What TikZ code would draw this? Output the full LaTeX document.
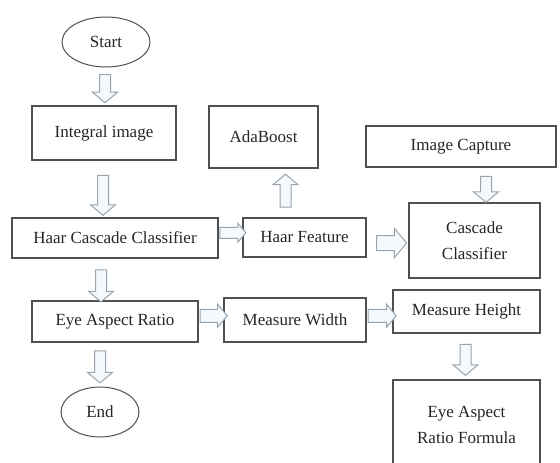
\documentclass[tikz,border=0pt]{standalone}
\usepackage{fontspec}
\setmainfont{Liberation Serif}
\usetikzlibrary{shapes.geometric, shapes.arrows, calc}
\definecolor{boxline}{HTML}{505050}
\definecolor{arrowline}{HTML}{98A4B0}
\definecolor{arrowfill}{HTML}{F6F9FB}

\begin{document}
\begin{tikzpicture}[
  x=1pt, y=-1pt,
  terminal/.style={ellipse, draw=boxline, line width=1pt, inner sep=0pt, text=black!85, font=\fontsize{17}{20}\selectfont},
  stage/.style={rectangle, draw=boxline, line width=1.4pt, inner sep=0pt, align=center, text=black!85, font=\fontsize{17}{26}\selectfont},
  barrow/.style={single arrow, draw=arrowline, fill=arrowfill, line width=1pt, inner sep=5pt, single arrow head extend=7pt, single arrow tip angle=100, minimum height=#1},
  pointdown/.style={shape border rotate=270},
  pointup/.style={shape border rotate=90},
  pointright/.style={shape border rotate=0, inner sep=6pt, single arrow head extend=5pt}
]
\clip (0,0) rectangle (560,463);
\fill[white] (0,0) rectangle (560,463);

\node[terminal, minimum width=88pt, minimum height=50pt] (start) at (106,42) {Start};
\node[stage, minimum width=144pt, minimum height=54pt] (integral) at (104,133) {Integral image};
\node[stage, minimum width=109pt, minimum height=62pt] (adaboost) at (263.5,137) {AdaBoost};
\node[stage, minimum width=190pt, minimum height=41pt] (capture) at (461,146.5) {Image Capture};
\node[stage, minimum width=206pt, minimum height=40pt] (haarcc) at (115,238) {Haar Cascade Classifier};
\node[stage, minimum width=123pt, minimum height=39pt] (haarfeat) at (304.5,237.5) {Haar Feature};
\node[stage, minimum width=131pt, minimum height=75pt] (cascade) at (474.5,240.5) {Cascade\\Classifier};
\node[stage, minimum width=166pt, minimum height=41pt] (ear) at (115,321.5) {Eye Aspect Ratio};
\node[stage, minimum width=142pt, minimum height=44pt] (mwidth) at (295,320) {Measure Width};
\node[stage, minimum width=147pt, minimum height=43pt] (mheight) at (466.5,311.5) {Measure Height};
\node[stage, minimum width=147pt, minimum height=90pt] (formula) at (466.5,425) {Eye Aspect\\Ratio Formula};
\node[terminal, minimum width=78pt, minimum height=50pt] (end) at (100,412) {End};

\node[barrow=28pt, pointdown] (a1) at ($(start.south)!0.5!(integral.north)$) {};
\node[barrow=40pt, pointdown] (a2) at ($(integral.south)!0.5!(integral.south |- haarcc.north)+(-1,4)$) {};
\node[barrow=26pt, pointright, inner sep=5pt, single arrow head extend=4pt] (a3) at ($(haarcc.east)!0.5!(haarfeat.west)+(0,-5)$) {};
\node[barrow=33pt, pointup] (a4) at ($(adaboost.south)!0.5!(adaboost.south |- haarfeat.north)+(22,0)$) {};
\node[barrow=30pt, pointright, inner sep=7pt, single arrow head extend=7pt] (a5) at ($(haarfeat.east)!0.5!(cascade.west)+(1,4)$) {};
\node[barrow=26pt, pointdown] (a6) at ($(capture.south)!0.5!(capture.south |- cascade.north)+(25,2)$) {};
\node[barrow=32pt, pointdown] (a7) at ($(haarcc.south)!0.5!(haarcc.south |- ear.north)+(-14,4)$) {};
\node[barrow=27pt, pointright] (a8) at ($(ear.east)!0.5!(mwidth.west)+(0,-5)$) {};
\node[barrow=28pt, pointright] (a9) at ($(mwidth.east)!0.5!(mheight.west)$) {};
\node[barrow=31pt, pointdown] (a10) at ($(mheight.south)!0.5!(formula.north)+(-1,1)$) {};
\node[barrow=32pt, pointdown] (a11) at ($(end.north)!0.5!(end.north |- ear.south)$) {};

\end{tikzpicture}
\end{document}
